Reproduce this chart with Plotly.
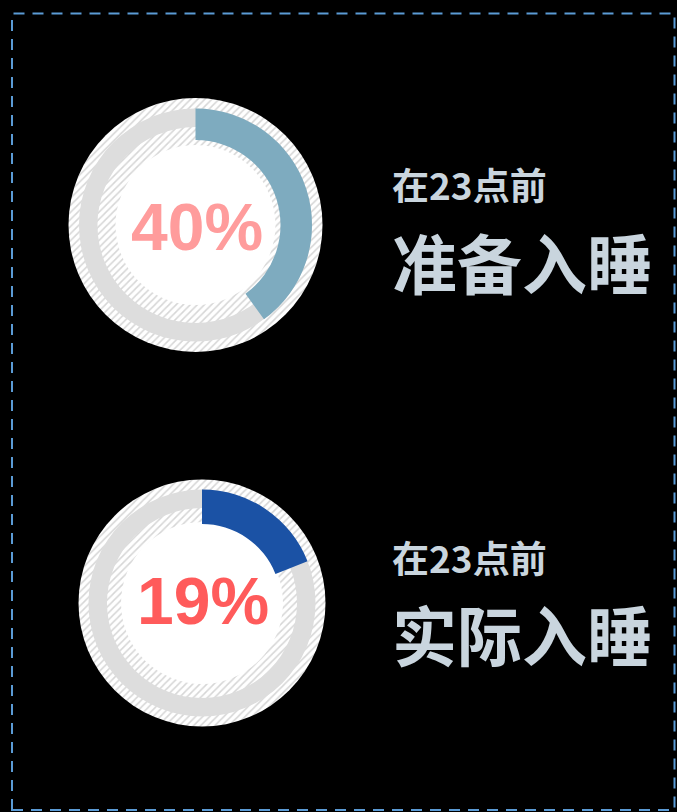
import plotly.graph_objects as go

# ---- data ----
percent_values = [40, 19]
percent_labels = ["40%", "19%"]
top_labels = ["在23点前", "在23点前"]
main_labels = ["准备入睡", "实际入睡"]

# ---- styles / layout ----
W, H = 677, 812
arc_colors = ["#7eabbf", "#1b52a5"]
pct_colors = ["#ff9c9c", "#ff5b5b"]
text_color = "#c9d5de"
ring_gray = "#dddddd"
hatch_gray = "#d6d6d6"

# geometry per donut (pixels): center x, center y, outer disc, ring outer, ring inner, arc inner, white center
geo = [
    dict(cx=195.5, cy=225, R=127, ro=116.5, ri=98, ai=85, wc=80),
    dict(cx=202, cy=603, R=123.5, ro=113.5, ri=95, ai=79, wc=81),
]
text_pos = [
    dict(tx=390, ty_small=184, ty_big=261, pct_y=227.5),
    dict(tx=390, ty_small=557, ty_big=633, pct_y=600.5),
]


def dom(cx, cy, r):
    return dict(x=[(cx - r) / W, (cx + r) / W], y=[1 - (cy + r) / H, 1 - (cy - r) / H])


fig = go.Figure()
common = dict(sort=False, direction="clockwise", rotation=0, textinfo="none",
              hoverinfo="skip", showlegend=False)

for i, v in enumerate(percent_values):
    g = geo[i]
    # hatched white disc
    fig.add_trace(go.Pie(values=[1], domain=dom(g["cx"], g["cy"], g["R"]),
                         marker=dict(colors=["white"], line=dict(width=0),
                                     pattern=dict(shape="/", fgcolor=hatch_gray, bgcolor="white",
                                                  size=5, solidity=0.3)),
                         **common))
    # solid white center
    fig.add_trace(go.Pie(values=[1], domain=dom(g["cx"], g["cy"], g["wc"]),
                         marker=dict(colors=["white"], line=dict(width=0)), **common))
    # gray track ring
    fig.add_trace(go.Pie(values=[1], hole=g["ri"] / g["ro"], domain=dom(g["cx"], g["cy"], g["ro"]),
                         marker=dict(colors=[ring_gray], line=dict(width=0)), **common))
    # progress arc
    fig.add_trace(go.Pie(values=[v, 100 - v], hole=g["ai"] / g["ro"],
                         domain=dom(g["cx"], g["cy"], g["ro"]),
                         marker=dict(colors=[arc_colors[i], "rgba(0,0,0,0)"], line=dict(width=0)),
                         **common))

annotations = []
for i in range(len(percent_values)):
    g = geo[i]
    t = text_pos[i]
    annotations.append(dict(x=g["cx"] / W + 0.0015, y=1 - t["pct_y"] / H, xref="paper", yref="paper",
                            text="<b>" + percent_labels[i] + "</b>", showarrow=False,
                            xanchor="center", yanchor="middle",
                            font=dict(family="Liberation Sans, Arial", size=66, color=pct_colors[i])))
    annotations.append(dict(x=t["tx"] / W, y=1 - t["ty_small"] / H, xref="paper", yref="paper",
                            text=top_labels[i], showarrow=False, xanchor="left", yanchor="middle",
                            font=dict(family="Noto Sans CJK SC", size=37, color=text_color, weight="bold")))
    annotations.append(dict(x=t["tx"] / W, y=1 - t["ty_big"] / H, xref="paper", yref="paper",
                            text=main_labels[i], showarrow=False, xanchor="left", yanchor="middle",
                            font=dict(family="Noto Sans CJK SC", size=65, color=text_color, weight="bold")))

fig.update_layout(
    width=W, height=H,
    margin=dict(l=0, r=0, t=0, b=0),
    paper_bgcolor="black", plot_bgcolor="black",
    annotations=annotations,
    shapes=[dict(type="rect", xref="paper", yref="paper",
                 x0=12 / W, x1=674.5 / W, y0=1 - 810 / H, y1=1 - 13.5 / H,
                 line=dict(color="#5b9bd5", width=2, dash="11px,8px"),
                 fillcolor="rgba(0,0,0,0)")],
)

fig.write_html("out.html", config={"displayModeBar": False},
               post_script="document.body.style.margin='0';document.body.style.background='black';")
